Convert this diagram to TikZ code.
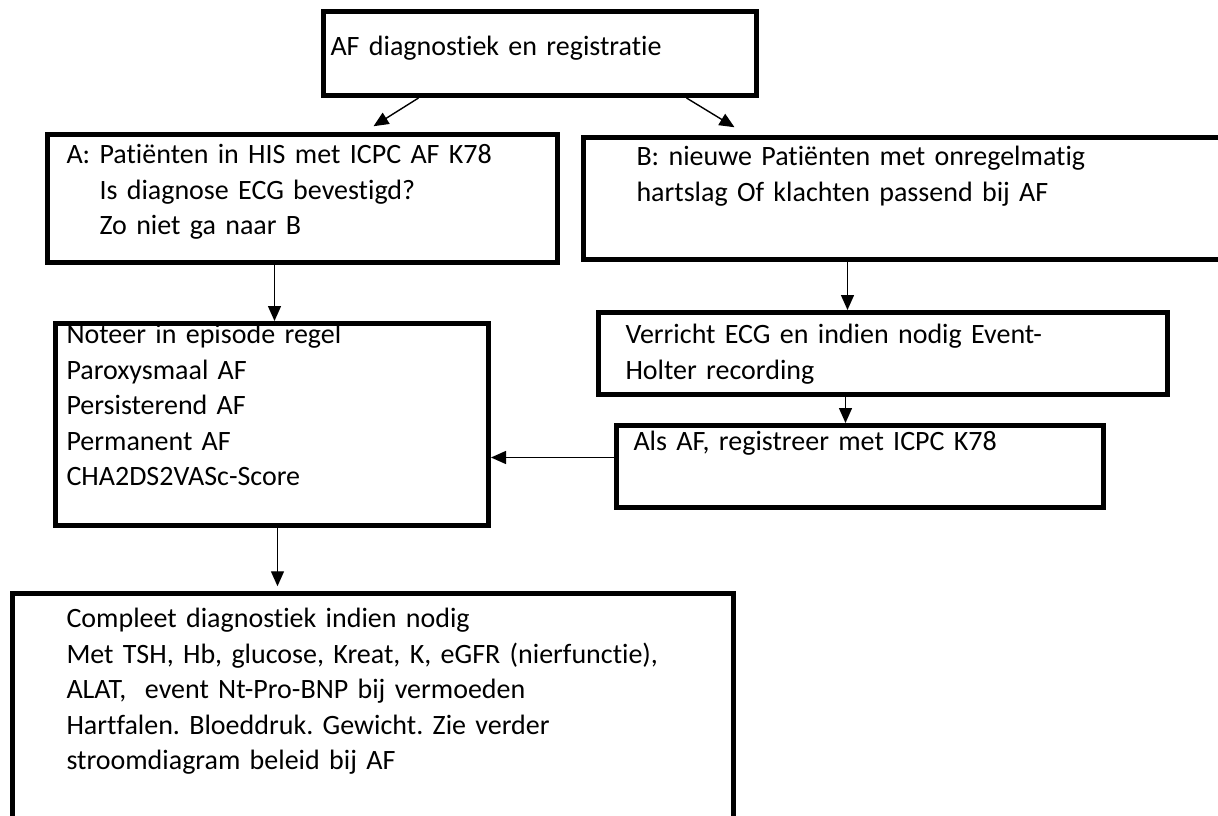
\documentclass[tikz,border=0pt]{standalone}
\usepackage{fontspec}
\setmainfont{Carlito}[RawFeature={-liga;-clig;-calt;-dlig}]
\frenchspacing
\usepackage{tikz}
\usetikzlibrary{arrows.meta, positioning}
\tikzstyle{stap} = [draw=black, line width=5pt, rectangle, inner ysep=0pt, anchor=north west, align=left, font=\fontsize{28}{35.5}\selectfont]
\tikzstyle{pijl} = [draw=black, line width=1.4pt, -{Triangle[width=13pt,length=15pt]}]

\begin{document}
\begin{tikzpicture}[x=1pt, y=-1pt]
	\useasboundingbox (0,0) rectangle (1218,816);
	\node [stap, inner xsep=7pt, text width=419pt, text height=44pt, text depth=40pt] (top) at (321,9) {AF diagnostiek en registratie};
	\node [stap, inner xsep=19pt, text width=472pt, text height=29pt, text depth=99pt] (A) at (45,132) {%
		A: Patiënten in HIS met ICPC AF K78\\
		\hspace*{33pt}Is diagnose ECG bevestigd?\\
		\hspace*{33pt}Zo niet ga naar B};
	\node [stap, inner xsep=53pt, text width=541pt, text height=28pt, text depth=94pt] (B) at (581,135) {%
		B: nieuwe Patiënten met onregelmatig\\
		hartslag Of klachten passend bij AF};
	\node [stap, inner xsep=11pt, text width=411pt, text height=20pt, text depth=182pt] (noteer) at (53,321) {%
		Noteer in episode regel\\
		Paroxysmaal AF\\
		Persisterend AF\\
		Permanent AF\\
		CHA2DS2VASc-Score};
	\node [stap, inner xsep=27pt, text width=515pt, text height=31pt, text depth=51pt] (verricht) at (596,310) {%
		Verricht ECG en indien nodig Event-\\
		Holter recording};
	\node [stap, inner xsep=17pt, text width=453pt, text height=25pt, text depth=57pt] (als) at (614,423) {Als AF, registreer met ICPC K78};
	\node [stap, inner xsep=54pt, text width=613pt, text height=34pt, text depth=203pt] (compleet) at (10,591) {%
		Compleet diagnostiek indien nodig\\
		Met TSH, Hb, glucose, Kreat, K, eGFR (nierfunctie),\\
		ALAT,\ \ event Nt-Pro-BNP bij vermoeden\\
		Hartfalen. Bloeddruk. Gewicht. Zie verder\\
		stroomdiagram beleid bij AF};
	% pijlen
	\draw [pijl] ([xshift=-121.5pt]top.south) -- ([xshift=71pt, yshift=5.75pt]A.north);
	\draw [pijl] ([xshift=146.5pt]top.south) -- ([xshift=-172.5pt, yshift=7.75pt]B.north);
	\coordinate (pA) at ([xshift=2.5pt]noteer.north);
	\draw [pijl] (pA |- A.south) -- (pA);
	\coordinate (pB) at ([xshift=-35.5pt]verricht.north);
	\draw [pijl] (pB |- B.south) -- (pB);
	\coordinate (pV) at ([xshift=-14.5pt]als.north);
	\draw [pijl] (pV |- verricht.south) -- (pV);
	\coordinate (pL) at ([yshift=9pt]als.west);
	\draw [pijl] (pL) -- (pL -| noteer.east);
	\coordinate (pN) at ([xshift=5.5pt]noteer.south);
	\draw [pijl, shorten >=4.75pt] (pN) -- (pN |- compleet.north);
\end{tikzpicture}
\end{document}
